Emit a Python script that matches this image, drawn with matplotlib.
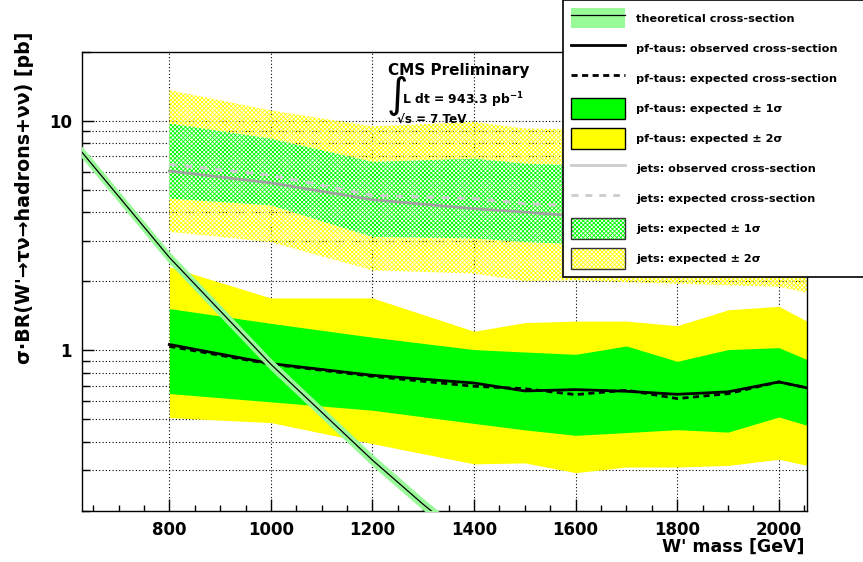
import matplotlib
matplotlib.use('Agg')
import matplotlib.pyplot as plt
from matplotlib.patches import Patch
from matplotlib.lines import Line2D
from matplotlib.ticker import FixedLocator, MultipleLocator, NullFormatter, FixedFormatter

plt.rcParams['font.family'] = ['DejaVu Sans']
plt.rcParams['font.weight'] = 'bold'
plt.rcParams['hatch.linewidth'] = 0.6
plt.rcParams['mathtext.fontset'] = 'dejavusans'
plt.rcParams['mathtext.default'] = 'bf'

# ---------------- data ----------------
mass = [800, 1000, 1200, 1400, 1500, 1600, 1700, 1800, 1900, 2000, 2100]

pf_obs = [1.06, 0.875, 0.778, 0.72, 0.665, 0.674, 0.663, 0.643, 0.659, 0.728, 0.654]
pf_exp = [1.04, 0.87, 0.77, 0.697, 0.68, 0.641, 0.67, 0.616, 0.647, 0.728, 0.654]
pf_1s_hi = [1.52, 1.31, 1.14, 1.007, 0.983, 0.96, 1.044, 0.895, 1.007, 1.027, 0.828]
pf_1s_lo = [0.648, 0.596, 0.548, 0.48, 0.45, 0.426, 0.438, 0.451, 0.44, 0.512, 0.441]
pf_2s_hi = [2.31, 1.69, 1.69, 1.21, 1.32, 1.34, 1.34, 1.28, 1.50, 1.555, 1.187]
pf_2s_lo = [0.509, 0.484, 0.392, 0.32, 0.323, 0.293, 0.31, 0.31, 0.315, 0.335, 0.30]

jets_obs = [6.04, 5.36, 4.53, 4.14, 4.0, 3.85, 3.8, 3.75, 3.7, 3.65, 3.6]
jets_exp = [6.46, 5.79, 4.73, 4.58, 4.36, 4.25, 4.2, 4.15, 4.1, 4.05, 4.0]
jets_1s_hi = [9.72, 8.36, 6.62, 6.84, 6.51, 6.4, 6.3, 6.2, 6.1, 6.0, 5.9]
jets_1s_lo = [4.58, 4.28, 3.12, 3.07, 2.96, 2.9, 2.85, 2.8, 2.75, 2.7, 2.6]
jets_2s_hi = [13.6, 11.1, 9.46, 9.88, 9.25, 9.2, 9.0, 8.8, 8.6, 8.5, 8.3]
jets_2s_lo = [3.28, 2.96, 2.23, 2.16, 2.0, 2.02, 1.98, 1.95, 1.92, 1.89, 1.70]

theo_mass = [600, 700, 800, 900, 1000, 1100, 1200, 1300, 1400]
theo_xs = [8.66, 4.69, 2.54, 1.486, 0.869, 0.537, 0.332, 0.213, 0.141]
theo_hi = [9.18, 4.97, 2.69, 1.575, 0.921, 0.569, 0.352, 0.226, 0.149]
theo_lo = [8.16, 4.42, 2.39, 1.400, 0.819, 0.506, 0.313, 0.201, 0.133]

x_ticks = [800, 1000, 1200, 1400, 1600, 1800, 2000]
x_ticklabels = ['800', '1000', '1200', '1400', '1600', '1800', '2000']
y_ticks = [1, 10]
y_ticklabels = ['1', '10']

legend_labels = ['theoretical cross-section',
                 'pf-taus: observed cross-section',
                 'pf-taus: expected cross-section',
                 'pf-taus: expected \u00b1 1\u03c3',
                 'pf-taus: expected \u00b1 2\u03c3',
                 'jets: observed cross-section',
                 'jets: expected cross-section',
                 'jets: expected \u00b1 1\u03c3',
                 'jets: expected \u00b1 2\u03c3']

# ---------------- style ----------------
GREEN = '#00ff00'
YELLOW = '#ffff00'
THEO = '#98fb98'
HATCH = 'xxxxxxxx'
JOBS = '#a0a0a0'
JEXP = '#cccccc'

W, H = 863, 562
fig = plt.figure(figsize=(W / 100, H / 100), dpi=100)
ax = fig.add_axes([81.7 / W, (H - 510.7) / H, (807.3 - 81.7) / W, (510.7 - 51.7) / H])
ax.set_yscale('log')
ax.set_xlim(627.5, 2056)
ax.set_ylim(0.2, 20)

# jets bands (hatched, transparent)
ax.fill_between(mass, jets_2s_lo, jets_2s_hi, facecolor='none', edgecolor=YELLOW,
                hatch=HATCH, linewidth=0, zorder=2)
ax.fill_between(mass, jets_1s_lo, jets_1s_hi, facecolor='white', edgecolor=GREEN,
                hatch=HATCH, linewidth=0, zorder=2.1)
ax.plot(mass, jets_exp, color=JEXP, lw=2.2, ls=(0, (2.5, 2.5)), zorder=3)
ax.plot(mass, jets_obs, color=JOBS, lw=2.0, zorder=3)

# pf-taus bands (solid)
ax.fill_between(mass, pf_2s_lo, pf_2s_hi, color=YELLOW, linewidth=0, zorder=2.2)
ax.fill_between(mass, pf_1s_lo, pf_1s_hi, color=GREEN, linewidth=0, zorder=2.3)
ax.plot(mass, pf_exp, color='black', lw=2.0, ls=(0, (2.2, 1.6)), zorder=3.1)
ax.plot(mass, pf_obs, color='black', lw=2.0, zorder=3.2)

# theory
ax.fill_between(theo_mass, theo_lo, theo_hi, color=THEO, linewidth=0, zorder=4)
ax.plot(theo_mass, theo_xs, color='black', lw=0.9, zorder=4.1)

# axes, ticks, grid
ax.xaxis.set_major_locator(FixedLocator(x_ticks))
ax.xaxis.set_major_formatter(FixedFormatter(x_ticklabels))
ax.xaxis.set_minor_locator(MultipleLocator(50))
ax.yaxis.set_major_locator(FixedLocator(y_ticks))
ax.yaxis.set_major_formatter(FixedFormatter(y_ticklabels))
ax.yaxis.set_minor_locator(FixedLocator([0.2, 0.3, 0.4, 0.5, 0.6, 0.7, 0.8, 0.9,
                                         2, 3, 4, 5, 6, 7, 8, 9, 20]))
ax.yaxis.set_minor_formatter(NullFormatter())
ax.tick_params(axis='both', which='both', direction='in', top=False, right=False,
               labelsize=12, width=1.0, color='black')
ax.tick_params(axis='x', which='major', length=8.6, pad=7.5)
ax.tick_params(axis='x', which='minor', length=4.3)
ax.tick_params(axis='y', which='major', length=8.6, pad=7)
ax.tick_params(axis='y', which='minor', length=5.8)
for lab in ax.get_xticklabels() + ax.get_yticklabels():
    lab.set_fontweight('bold')
ax.set_axisbelow(True)
ax.grid(True, axis='x', which='major', color='black', ls=(0, (1, 2)), lw=0.8)
ax.grid(True, axis='y', which='both', color='black', ls=(0, (1, 2)), lw=0.8)
for sp in ax.spines.values():
    sp.set_linewidth(1.0)

fig.text(804 / W, (H - 547) / H, "W' mass [GeV]", ha='right', va='center',
         fontsize=12.5, fontweight='bold')
fig.text(25 / W, (H - 32) / H, "\u03c3\u00b7BR(W'\u2192\u03c4\u03bd\u2192hadrons+\u03bd\u03bd) [pb]",
         rotation=90, ha='center', va='top', fontsize=13.7, fontweight='bold')

# CMS text
fig.text(388 / W, (H - 75) / H, 'CMS Preliminary', ha='left', va='baseline',
         fontsize=11, fontweight='bold')
fig.text(386 / W, (H - 96) / H, r'$\int$', ha='left', va='center', fontsize=21)
fig.text(402 / W, (H - 104) / H, 'L dt = 943.3 pb$^{-1}$', ha='left', va='baseline',
         fontsize=8.9, fontweight='bold')
fig.text(397 / W, (H - 123) / H, '\u221as = 7 TeV', ha='left', va='baseline',
         fontsize=8.6, fontweight='bold', zorder=1)

# legend
handles = [
    (Patch(facecolor=THEO, edgecolor='none'), Line2D([], [], color='black', lw=0.9)),
    Line2D([], [], color='black', lw=2.0),
    Line2D([], [], color='black', lw=2.0, ls=(0, (2.2, 1.6))),
    Patch(facecolor=GREEN, edgecolor='black', lw=1.0),
    Patch(facecolor=YELLOW, edgecolor='black', lw=1.0),
    Line2D([], [], color=JEXP, lw=2.0),
    Line2D([], [], color=JEXP, lw=2.0, ls=(0, (2.5, 2.5))),
    (Patch(facecolor='white', edgecolor=GREEN, hatch=HATCH, lw=0),
     Patch(facecolor='none', edgecolor='#333333', lw=1.0)),
    (Patch(facecolor='white', edgecolor=YELLOW, hatch=HATCH, lw=0),
     Patch(facecolor='none', edgecolor='#333333', lw=1.0)),
]
leg = fig.legend(handles, legend_labels, loc='lower left',
                 bbox_to_anchor=(563 / W, (H - 277) / H, (900 - 563) / W, 0),
                 mode='expand', ncol=1, fontsize=8.1, frameon=True, fancybox=False,
                 edgecolor='black', facecolor='white', framealpha=1,
                 handlelength=4.8, handleheight=2.46, labelspacing=0.83,
                 handletextpad=0.98, borderpad=0.7, borderaxespad=0)
leg.get_frame().set_linewidth(1.2)
for t in leg.get_texts():
    t.set_fontweight('bold')

fig.savefig('out.png', dpi=100)
